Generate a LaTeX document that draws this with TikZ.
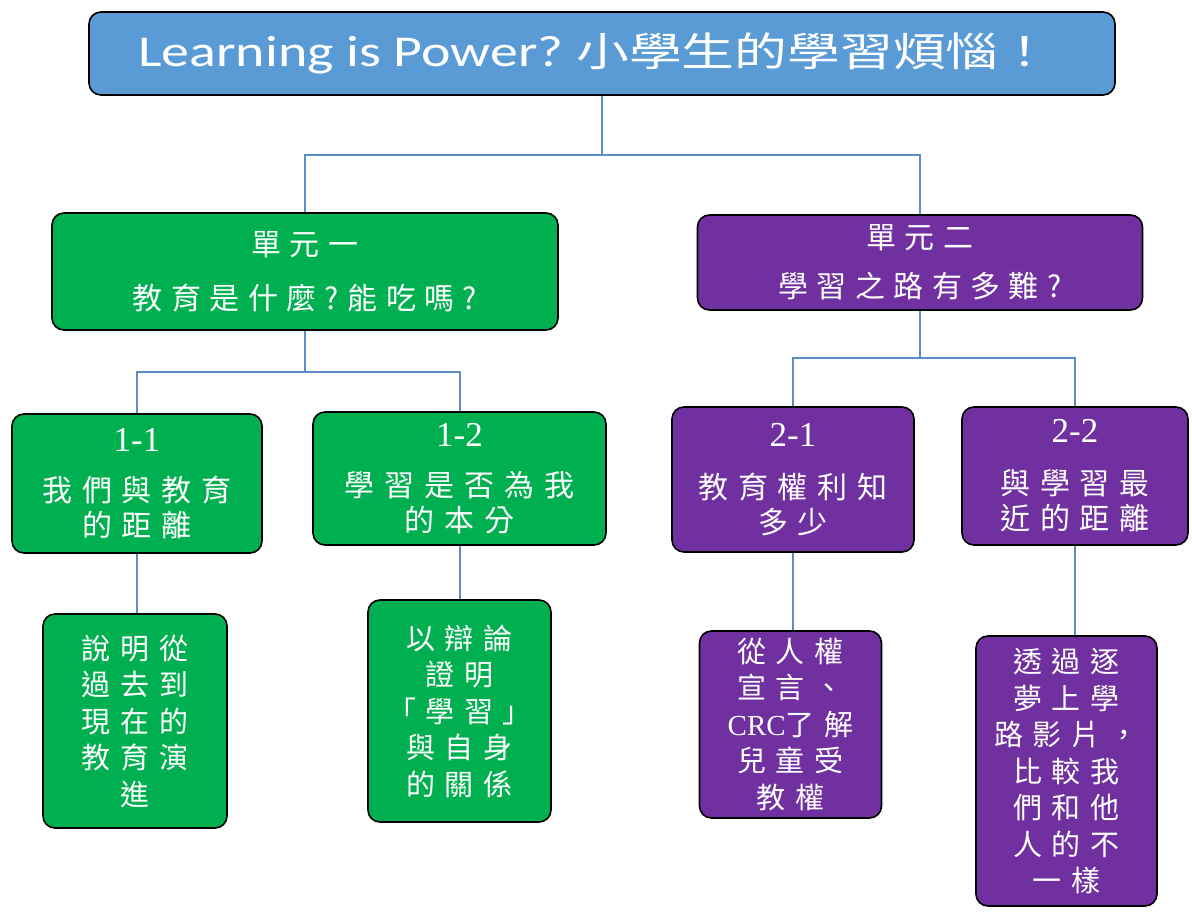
\documentclass[tikz,border=0pt]{standalone}
\usepackage{fontspec}
\setmainfont{Noto Sans CJK TC}
\newfontfamily\cjku[LetterSpace=28]{Noto Sans CJK TC}
\newfontfamily\cjkb[LetterSpace=33]{Noto Sans CJK TC}
\newfontfamily\cjkt{Noto Sans CJK TC}
\newfontfamily\lat{Carlito}
\newfontfamily\ser{Liberation Serif}
\definecolor{titleblue}{HTML}{5B9BD5}
\definecolor{ugreen}{HTML}{00B050}
\definecolor{upurple}{HTML}{7030A0}
\definecolor{connblue}{HTML}{5B8DC6}
\begin{document}
\begin{tikzpicture}[x=1pt,y=-1pt,
  box/.style={draw=black, line width=1.6pt, rounded corners=12pt, text=white, align=center, inner sep=0pt},
  gbox/.style={box, fill=ugreen},
  pbox/.style={box, fill=upurple},
  conn/.style={draw=connblue, line width=2pt},
  mid/.style={font=\cjkb\fontsize{30}{35}\selectfont},
  body/.style={font=\cjkb\fontsize{29}{36.5}\selectfont}]
\useasboundingbox (0,0) rectangle (1192,911);
% title
\node[box, fill=titleblue, minimum width=1026pt, minimum height=83pt] (title) at (602,53.5)
  {\scalebox{1.27}[1]{\lat\fontsize{44}{44}\selectfont Learning is Power?}\hspace{13pt}\scalebox{1.32}[1]{\cjkt\fontsize{40}{40}\selectfont 小學生的學習煩惱！}\hspace*{14pt}};
% units
\node[gbox, minimum width=506pt, minimum height=117pt, font=\cjku\fontsize{30}{54}\selectfont] (u1) at (305,271.5)
  {單元一\\教育是什麼?能吃嗎?};
\node[pbox, minimum width=445pt, minimum height=95pt, font=\cjku\fontsize{30}{49}\selectfont] (u2) at (920,262.5)
  {單元二\\學習之路有多難?};
% level 2
\node[gbox, mid, minimum width=250pt, minimum height=139pt] (b11) at (137,483.5)
  {{\ser\fontsize{35}{35}\selectfont 1-1}\\[15pt]我們與教育\\的距離};
\node[gbox, mid, minimum width=293pt, minimum height=133pt] (b12) at (459.5,478.5)
  {{\ser\fontsize{35}{35}\selectfont 1-2}\\[15pt]學習是否為我\\的本分};
\node[pbox, mid, minimum width=242pt, minimum height=145pt] (b21) at (793,479.5)
  {{\ser\fontsize{35}{35}\selectfont 2-1}\\[17pt]教育權利知\\多少};
\node[pbox, mid, minimum width=226pt, minimum height=138pt] (b22) at (1075,476)
  {{\ser\fontsize{35}{35}\selectfont 2-2}\\[17pt]與學習最\\近的距離};
% level 3
\node[gbox, body, minimum width=184pt, minimum height=214pt] (c11) at (135,721)
  {說明從\\過去到\\現在的\\教育演\\進};
\node[gbox, body, minimum width=183pt, minimum height=222pt] (c12) at (459.5,711)
  {以辯論\\證明\\「學習」\\與自身\\的關係};
\node[pbox, body, minimum width=182pt, minimum height=187pt] (c21) at (790.5,724.5)
  {從人權\\宣言、\\{\ser CRC}了解\\兒童受\\教權};
\node[pbox, body, minimum width=181pt, minimum height=270pt] (c22) at (1066.5,771)
  {透過逐\\夢上學\\路影片，\\比較我\\們和他\\人的不\\一樣};
% connectors
\coordinate (j0) at (602,155);
\coordinate (j1) at (305,372);
\coordinate (j2) at (920,358);
\draw[conn] (title.south) -- (j0) -| (u1.north);
\draw[conn] (j0) -| (u2.north);
\draw[conn] (u1.south) -- (j1) -| (b11.north);
\draw[conn] (j1) -| (b12.north);
\draw[conn] (u2.south) -- (j2) -| (b21.north);
\draw[conn] (j2) -| (b22.north);
\draw[conn] (b11.south) -- (b11.south |- c11.north);
\draw[conn] (b12.south) -- (b12.south |- c12.north);
\draw[conn] (b21.south) -- (b21.south |- c21.north);
\draw[conn] (b22.south) -- (b22.south |- c22.north);
\end{tikzpicture}
\end{document}
